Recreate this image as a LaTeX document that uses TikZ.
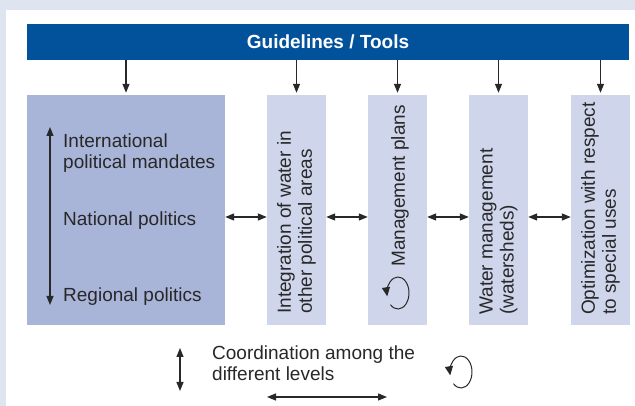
\documentclass[tikz,border=0pt]{standalone}
\usepackage{fontspec}
\setmainfont{Liberation Sans}
\usetikzlibrary{arrows.meta}

\definecolor{framegray}{RGB}{222,228,240}
\definecolor{bannerblue}{RGB}{2,82,155}
\definecolor{levelblue}{RGB}{169,181,216}
\definecolor{areablue}{RGB}{207,214,235}
\definecolor{inkgray}{RGB}{40,40,40}

\newcommand{\labelsize}{\fontsize{19}{21}\selectfont}
% open loop arrow round a point
\newcommand{\loopmark}[1]{\draw[line width=1pt, inkgray, -{Triangle[length=9pt,width=8pt]}]
    (#1) ++(227:11pt and 16pt) arc[start angle=227, end angle=552, x radius=11pt, y radius=16pt];}

\begin{document}
\begin{tikzpicture}[x=1pt, y=1pt, font=\labelsize,
    down/.style={-{Triangle[length=9pt,width=7pt]}, line width=1.2pt, inkgray},
    both/.style={{Triangle[length=9pt,width=7pt]}-{Triangle[length=9pt,width=7pt]}, line width=1.2pt, inkgray},
    area/.style={fill=areablue, minimum width=59pt, minimum height=230pt, inner sep=0pt},
    vtext/.style={rotate=90, anchor=west, align=left, inner sep=0pt, text=inkgray},
    htext/.style={anchor=west, align=left, inner sep=0pt, text=inkgray}]

    % frame
    \fill[framegray] (0,0) rectangle (635,406);
    \fill[white] (6,0) rectangle (635,396);

    % banner and the five columns
    \node[fill=bannerblue, minimum width=602pt, minimum height=36pt, inner sep=0pt,
          text=white, font=\labelsize\bfseries] (guide) at (328,364) {Guidelines / Tools};

    \node[fill=levelblue, minimum width=198pt, minimum height=230pt, inner sep=0pt] (levels) at (126,196) {};
    \node[area] (integ) at (296.5,196) {};
    \node[area] (plans) at (397.5,196) {};
    \node[area] (water) at (498.5,196) {};
    \node[area] (optim) at (600.5,196) {};

    \foreach \b in {levels,integ,plans,water,optim}
        \draw[down] (guide.south -| \b.north) -- ([yshift=2pt]\b.north);

    \draw[both] ([yshift=-7pt]levels.east) -- ([yshift=-7pt]integ.west);
    \draw[both] ([yshift=-7pt]integ.east) -- ([yshift=-7pt]plans.west);
    \draw[both] ([yshift=-7pt]plans.east) -- ([yshift=-7pt]water.west);
    \draw[both] ([yshift=-7pt]water.east) -- ([yshift=-7pt]optim.west);

    % political levels
    \coordinate (lvtop) at (50,279);
    \coordinate (lvbot) at (50,101);
    \draw[both] (lvtop) -- (lvbot);
    \node[htext] (intl) at (63,252.5) {International\\political mandates};
    \node[htext] (natl) at (63,185.5) {National politics};
    \node[htext] (regl) at (63,109.5) {Regional politics};

    % column labels
    \node[vtext] (integlbl) at (296.5,92) {Integration of water in\\other political areas};
    \node[vtext] (planslbl) at (400,139) {Management plans};
    \node[vtext] (waterlbl) at (498.5,91) {Water management\\(watersheds)};
    \node[vtext] (optimlbl) at (600.5,91) {Optimization with respect\\to special uses};

    \coordinate (plansloop) at (398,113);
    \loopmark{plansloop}

    % key
    \coordinate (keytop) at (180,58);
    \coordinate (keybot) at (180,15);
    \draw[both] (keytop) -- (keybot);
    \node[htext] (keytext) at (212,43) {Coordination among the\\different levels};
    \coordinate (keyloop) at (461,34);
    \loopmark{keyloop}
    \coordinate (keyleft) at (267,9);
    \coordinate (keyright) at (387,9);
    \draw[both] (keyleft) -- (keyright);
\end{tikzpicture}
\end{document}
